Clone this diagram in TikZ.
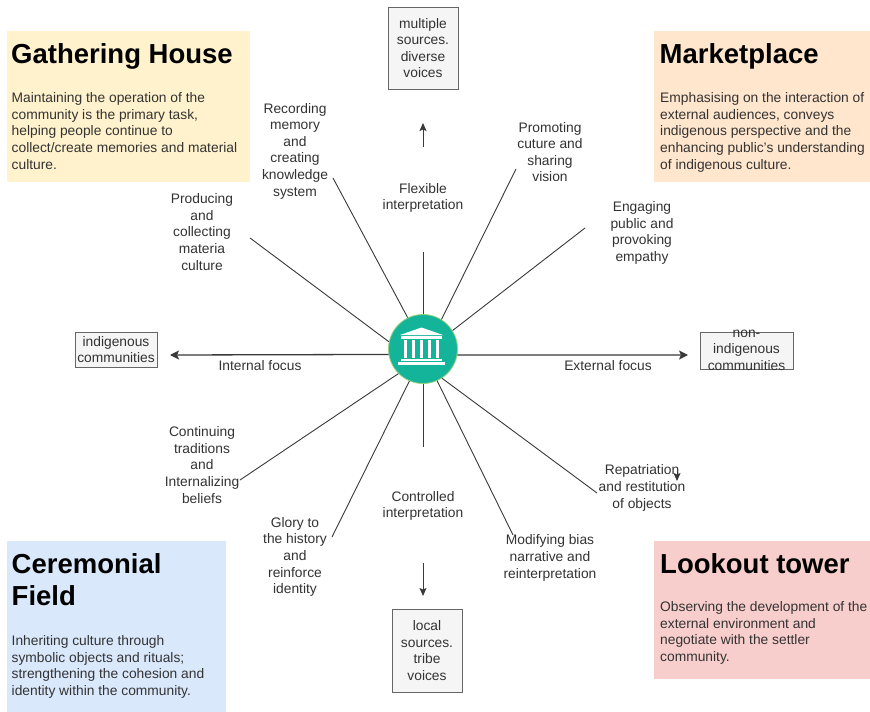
\documentclass[tikz,border=0pt]{standalone}
\usepackage{fontspec}
\setmainfont{Liberation Sans}
\usetikzlibrary{arrows.meta}
\definecolor{txt}{HTML}{333333}
\definecolor{linec}{HTML}{3A3A3A}
\definecolor{boxfill}{HTML}{F5F5F5}
\definecolor{boxline}{HTML}{666666}
\definecolor{gath}{HTML}{FFF2CC}
\definecolor{market}{HTML}{FFE6CC}
\definecolor{cere}{HTML}{DAE8FC}
\definecolor{look}{HTML}{F8CECC}
\definecolor{teal}{HTML}{14B49B}
\definecolor{tealrim}{HTML}{9AD27E}
\begin{document}
\begin{tikzpicture}[x=1pt,y=-1pt,
  lbl/.style={font=\fontsize{13.8}{16.6}\selectfont, text=txt, align=center, inner sep=0pt},
  body/.style={font=\fontsize{13.8}{16.7}\selectfont, text=txt, align=left, inner sep=0pt, anchor=north west},
  ttl/.style={font=\fontsize{27.5}{32}\selectfont\bfseries, text=black, inner sep=0pt, anchor=base west},
  graybox/.style={draw=boxline, fill=boxfill, line width=0.9pt, inner sep=0pt},
  spoke/.style={draw=linec, line width=0.9pt},
  focusarrow/.style={draw=linec, line width=1.3pt, -{Stealth[length=9pt,width=9pt,inset=2pt]}},
  smallarrow/.style={draw=linec, line width=1pt, -{Stealth[length=8pt,width=7pt,inset=1.5pt]}},
  icon/.style={fill=white, draw=none}
]
\useasboundingbox (0,0) rectangle (870,712);
\fill[white] (0,0) rectangle (870,712);

% coloured panels
\fill[gath] (7,31) rectangle (250,182);
\fill[market] (654,31) rectangle (870,182);
\fill[cere] (7,541) rectangle (226,712);
\fill[look] (654,541) rectangle (870,679);

% titles
\node[ttl] (tgath) at (11,63) {Gathering House};
\node[ttl] (tmark) at (659.5,63) {Marketplace};
\node[ttl, anchor=north west, align=left] (tcere) at (11.5,553.3) {Ceremonial\\Field};
\node[ttl] (tlook) at (660,573) {Lookout tower};

% body texts
\node[body] (bgath) at (11.5,92.1) {Maintaining the operation of the\\community is the primary task,\\helping people continue to\\collect/create memories and material\\culture.};
\node[body] (bmark) at (660,92.1) {Emphasising on the interaction of\\external audiences, conveys\\indigenous perspective and the\\enhancing public's understanding\\of indigenous culture.};
\node[body] (bcere) at (11.5,635.1) {Inheriting culture through\\symbolic objects and rituals;\\strengthening the cohesion and\\identity within the community.};
\node[body] (blook) at (660,601.1) {Observing the development of the\\external environment and\\negotiate with the settler\\community.};

% central circle
\node[circle, fill=teal, draw=tealrim, line width=0.8pt, minimum size=69pt, inner sep=0pt] (circ) at (423,349) {};
% museum icon
\fill[icon] (400,335) -- (421.5,327.5) -- (443,335) -- cycle;
\fill[icon] (401,336.3) rectangle (442,338.6);
\foreach \cx in {405.5,413.5,421.5,429.5,437.5}{
  \fill[icon] (\cx-1.8,340) rectangle (\cx+1.8,357.6);
}
\fill[icon] (401,358.8) rectangle (442,361);
\fill[icon] (398,362.4) rectangle (445,364.6);

% grey boxes
\node[graybox, minimum width=70pt, minimum height=82pt] (topbox) at (423,48) {};
\node[lbl] (toptext) at (topbox) {multiple\\sources.\\diverse\\voices};
\node[graybox, minimum width=70pt, minimum height=83pt] (botbox) at (427,650.5) {};
\node[lbl] (bottext) at (botbox) {local\\sources.\\tribe\\voices};
\node[graybox, minimum width=82pt, minimum height=35pt] (indbox) at (116,349.5) {};
\node[lbl] (indtext) at (indbox) {indigenous\\communities};
\node[graybox, minimum width=93pt, minimum height=37pt] (nonbox) at (746.5,350.5) {};
\node[lbl] (nontext) at (746.5,350) {non-\\indigenous\\communities};

% spoke labels
\node[lbl] (l1) at (295,151) {Recording\\memory\\and\\creating\\knowledge\\system};
\node[lbl] (l2) at (202,232) {Producing\\and\\collecting\\materia\\culture};
\node[lbl] (lflex) at (423,198) {Flexible\\interpretation};
\node[lbl] (l3) at (550,152) {Promoting\\cuture and\\sharing\\vision};
\node[lbl] (l4) at (642,233) {Engaging\\public and\\provoking\\empathy};
\node[lbl] (l5) at (202,465) {Continuing\\traditions\\and\\Internalizing\\beliefs};
\node[lbl] (l6) at (295,557) {Glory to\\the history\\and\\reinforce\\identity};
\node[lbl] (lctrl) at (423,506) {Controlled\\interpretation};
\node[lbl] (l7) at (642,488) {Repatriation\\and restitution\\of objects};
\node[lbl] (l8) at (550,558) {Modifying bias\\narrative and\\reinterpretation};
\node[lbl] (lint) at (260,366) {Internal focus};
\node[lbl] (lext) at (608,366) {External focus};

% free ends
\coordinate (e1) at (333,178);
\coordinate (e2) at (250,238);
\coordinate (e3) at (516,169);
\coordinate (e4) at (585,228);
\coordinate (e5) at (240,480);
\coordinate (e6) at (332,537);
\coordinate (e7) at (597,493);
\coordinate (e8) at (513,535);
\coordinate (vtop) at (423,252);
\coordinate (vbot) at (423,447);
\coordinate (aleft) at (170,355);
\coordinate (aright) at (688,355);
\coordinate (up1) at (423,147);
\coordinate (up2) at (423,123);
\coordinate (dn1) at (423,563);
\coordinate (dn2) at (423,596);
\coordinate (st1) at (677,471);
\coordinate (st2) at (677,481);

% spokes
\draw[spoke] (circ.116.6) -- (e1);
\draw[spoke] (circ.168.7) -- (e2);
\draw[spoke] (circ.58.5) -- (e3);
\draw[spoke] (circ.32.3) -- (e4);
\draw[spoke] (circ.225) -- (e5);
\draw[spoke] (circ.247) -- (e6);
\draw[spoke] (circ.303.2) -- (e7);
\draw[spoke] (circ.294.4) -- (e8);
\draw[spoke] (circ.north) -- (vtop);
\draw[spoke] (circ.south) -- (vbot);

% focus arrows
\draw[focusarrow] (circ.189.9) -- (aleft);
\draw[focusarrow] (circ.350.1) -- (aright);

% small arrows
\draw[smallarrow] (up1) -- (up2);
\draw[smallarrow] (dn1) -- (dn2);
\draw[smallarrow] (st1) -- (st2);
\end{tikzpicture}
\end{document}
